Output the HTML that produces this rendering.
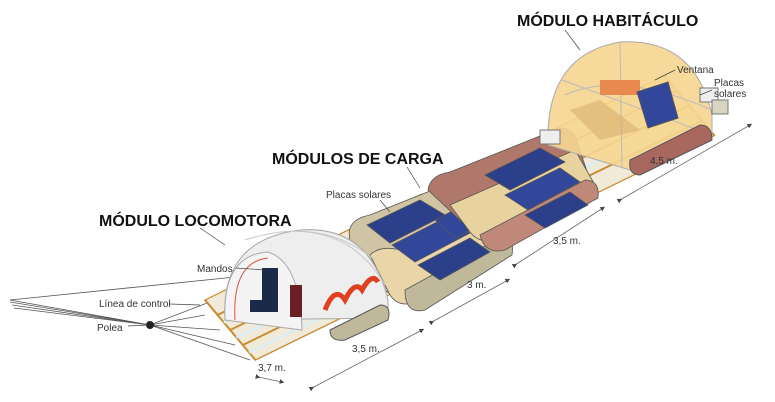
<!DOCTYPE html>
<html><head><meta charset="utf-8"><style>
html,body{margin:0;padding:0;background:#fff;width:775px;height:402px;overflow:hidden}
svg{display:block}
text{font-family:"Liberation Sans",sans-serif;fill:#222}
.t{font-weight:bold;font-size:16px;fill:#111}
.s{font-size:10px;fill:#333}
</style></head><body>
<svg width="775" height="402" viewBox="0 0 775 402">
<defs>
<marker id="a" markerWidth="6" markerHeight="6" refX="3" refY="3" orient="auto"><path d="M0 0L6 3L0 6Z" fill="#444"/></marker>
</defs>
<!-- tow lines -->
<g stroke="#555" stroke-width="0.8" fill="none">
<path d="M10 300 L150 325 L215 300"/><path d="M10 302 L150 325 L205 315"/>
<path d="M12 305 L150 325 L220 330"/><path d="M14 308 L150 325 L235 345"/>
<path d="M10 300 L255 275"/><path d="M150 325 L250 360"/>
</g>
<circle cx="150" cy="325" r="4" fill="#222"/>
<!-- train in local coords -->
<g transform="matrix(0.9,-0.44,0.42,0.5,205,300)">
 <g fill="#f2ead8" stroke="#c98a30" stroke-width="2">
  <rect x="0" y="0" width="130" height="120"/>
  <rect x="140" y="0" width="100" height="120"/>
  <rect x="255" y="0" width="100" height="120"/>
  <rect x="370" y="0" width="140" height="120"/>
 </g>
 <g stroke="#c98a30" stroke-width="3">
  <path d="M0 30H130M0 60H130M0 90H130M140 30H240M140 60H240M140 90H240M255 30H355M255 60H355M255 90H355M370 30H510M370 60H510M370 90H510"/>
 </g>
 <g stroke="#d8eef6" stroke-width="4">
  <path d="M0 45H130M0 75H130M0 105H130M140 45H240M140 75H240M140 105H240M255 45H355M255 75H355M255 105H355M370 45H510M370 75H510"/>
 </g>
</g>
<!-- cargo1 bags (screen space) -->
<g stroke="#555" stroke-width="0.8">
 <path d="M350 240 Q345 220 370 215 L470 175 Q490 172 490 190 L500 230 L410 290 Q395 300 385 290 Z" fill="#cfc4a4"/>
 <path d="M370 255 Q380 245 400 250 L495 205 L505 245 L420 300 Q400 310 390 295 Z" fill="#e9d5a8"/>
 <path d="M405 290 L500 238 Q515 235 512 255 L425 310 Q405 315 405 290 Z" fill="#bfb89a"/>
 <polygon points="367,225 420,200 445,215 390,243" fill="#2c3f8a"/>
 <polygon points="392,245 445,218 470,233 415,262" fill="#33479a"/>
 <polygon points="418,265 470,238 490,252 440,280" fill="#2c3f8a"/>
 <polygon points="435,240 470,222 490,240 455,258" fill="#33479a" transform="translate(0,-20)"/>
</g>
<!-- cargo2 bags -->
<g stroke="#555" stroke-width="0.8">
 <path d="M428 190 Q430 175 450 172 L560 128 Q575 128 578 145 L590 180 L490 232 Q470 238 465 225 Z" fill="#b0786a"/>
 <path d="M450 205 L575 150 L595 185 L500 240 Q480 245 470 232 Z" fill="#e8d2a0"/>
 <path d="M480 235 L585 180 Q600 180 598 198 L505 250 Q485 255 480 235 Z" fill="#c08878"/>
 <polygon points="485,175 540,148 565,162 510,190" fill="#2c3f8a"/>
 <polygon points="505,195 560,168 580,182 528,210" fill="#33479a"/>
 <polygon points="525,215 570,192 588,205 545,228" fill="#2c3f8a"/>
</g>
<!-- locomotive tent -->
<path d="M225 320 Q220 240 300 230 Q370 225 388 300 L388 318 Z" fill="#eeeeee" stroke="#aaa"/>
<path d="M245 240 Q320 215 375 260 M280 232 Q350 225 385 285" fill="none" stroke="#c8c8c8"/>
<path d="M225 320 Q222 255 268 252 Q300 262 302 330 Z" fill="#f4f4f4" stroke="#aaa"/>
<path d="M235 320 Q232 262 268 258" fill="none" stroke="#e05040"/>
<path d="M325 310 Q335 285 345 300 Q355 280 362 290 Q372 272 378 282" stroke="#e04020" stroke-width="5" fill="none"/>
<rect x="262" y="268" width="16" height="36" fill="#1c2a4a"/><rect x="290" y="285" width="12" height="32" fill="#6a1f25"/>
<rect x="250" y="300" width="28" height="12" fill="#1c2a4a"/>
<path d="M330 330 L380 305 Q392 305 388 320 L345 340 Q330 342 330 330Z" fill="#bfb89a" stroke="#555"/>
<!-- habitat dome -->
<path d="M548 145 Q545 55 620 42 Q695 38 712 115 L712 135 L630 170 Z" fill="#f6d690" fill-opacity="0.9" stroke="#aaa"/>
<path d="M620 42 L622 168 M562 80 L712 135 M565 95 Q620 70 712 110" stroke="#bbb" fill="none"/>
<path d="M570 110 L600 100 L640 130 L600 140 Z" fill="#d8b070" opacity="0.6"/>
<rect x="600" y="80" width="40" height="15" fill="#e88a50"/>
<polygon points="637,92 668,82 678,118 648,128" fill="#33479a" stroke="#555"/>
<path d="M630 160 L700 125 Q712 125 712 140 L640 175 Q628 175 630 160Z" fill="#a86860" stroke="#555"/>
<rect x="700" y="88" width="18" height="14" fill="#eee" stroke="#777"/>
<rect x="712" y="100" width="16" height="14" fill="#d8d4c0" stroke="#777"/>
<rect x="540" y="130" width="20" height="14" fill="#eee" stroke="#777"/>
<!-- dimension lines -->
<g stroke="#666" stroke-width="0.8" fill="none" marker-start="url(#a)" marker-end="url(#a)">
 <path d="M258 377 L282 382"/>
 <path d="M312 388 L422 330"/><path d="M432 322 L508 280"/>
 <path d="M515 265 L603 208"/><path d="M620 200 L750 125"/>
</g>
<!-- leader lines -->
<g stroke="#444" stroke-width="0.7" fill="none">
 <path d="M565 30 L580 50"/><path d="M407 167 L420 188"/><path d="M200 228 L225 245"/>
 <path d="M675 70 L655 80"/><path d="M712 90 L700 95"/><path d="M380 200 L390 212"/>
 <path d="M236 268 L265 270"/><path d="M170 304 L200 305"/><path d="M128 326 L148 325"/>
</g>
<!-- titles & labels -->
<text class="t" x="517" y="26">MÓDULO HABITÁCULO</text>
<text class="t" x="272" y="164">MÓDULOS DE CARGA</text>
<text class="t" x="99" y="226">MÓDULO LOCOMOTORA</text>
<text class="s" x="677" y="73">Ventana</text>
<text class="s" x="714" y="86">Placas</text><text class="s" x="714" y="97">solares</text>
<text class="s" x="326" y="198">Placas solares</text>
<text class="s" x="197" y="272">Mandos</text>
<text class="s" x="99" y="307">Línea de control</text>
<text class="s" x="97" y="331">Polea</text>
<text class="s" x="258" y="371">3,7 m.</text>
<text class="s" x="352" y="352">3,5 m.</text>
<text class="s" x="467" y="288">3 m.</text>
<text class="s" x="553" y="244">3,5 m.</text>
<text class="s" x="650" y="164">4,5 m.</text>
</svg>
</body></html>
